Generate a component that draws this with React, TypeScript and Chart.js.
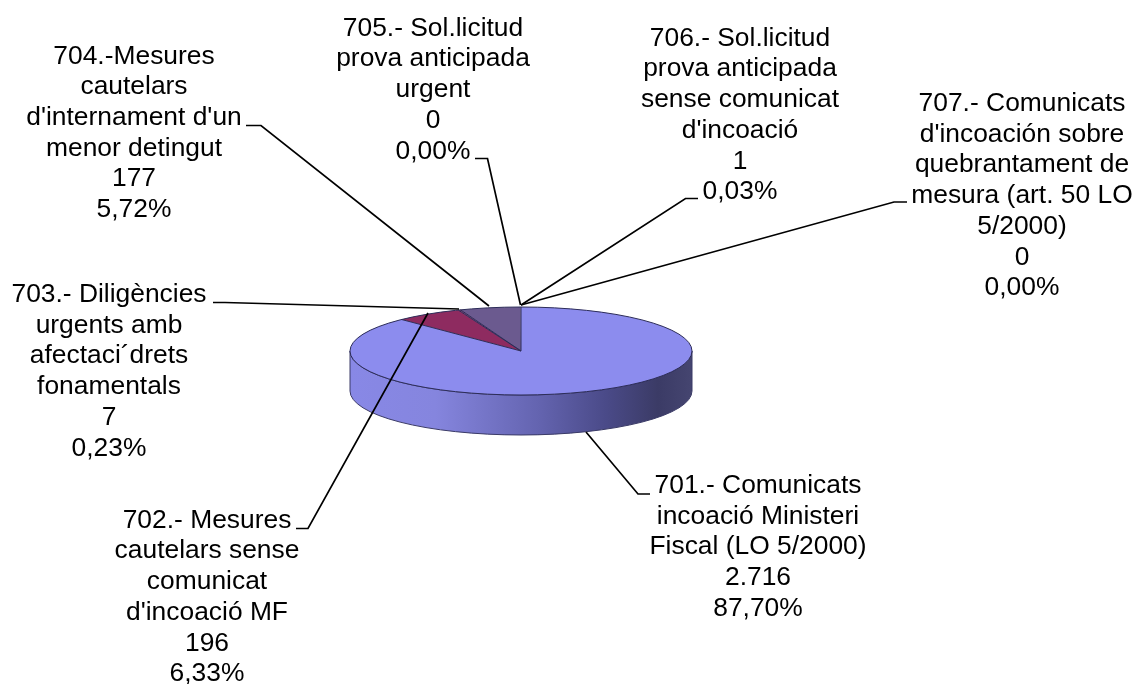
import React, { useEffect, useRef } from "react";
import { Chart, registerables } from "chart.js";

Chart.register(...registerables);

const categories: string[][] = [
  ["701.- Comunicats", "incoació Ministeri", "Fiscal (LO 5/2000)"],
  ["702.- Mesures", "cautelars sense", "comunicat", "d'incoació MF"],
  ["703.- Diligències", "urgents amb", "afectaci´drets", "fonamentals"],
  ["704.-Mesures", "cautelars", "d'internament d'un", "menor detingut"],
  ["705.- Sol.licitud", "prova anticipada", "urgent"],
  ["706.- Sol.licitud", "prova anticipada", "sense comunicat", "d'incoació"],
  ["707.- Comunicats", "d'incoación sobre", "quebrantament de", "mesura (art. 50 LO", "5/2000)"],
];
const values = [2716, 196, 7, 177, 0, 1, 0];
const valueLabels = ["2.716", "196", "7", "177", "0", "1", "0"];
const percentLabels = ["87,70%", "6,33%", "0,23%", "5,72%", "0,00%", "0,03%", "0,00%"];
const sliceColors = ["#8C8CEE", "#8E2B60", "#7A3A70", "#6B5A8F", "#6B5A8F", "#6B5A8F", "#6B5A8F"];

// label layout: text centre x, first baseline y
const labelCenters = [758, 207, 109, 134, 433, 740, 1022];
const labelBaselines = [493, 527.7, 302, 63.5, 35.7, 45.7, 111];
// leader polylines
const leaders: number[][][] = [
  [[650, 494], [638, 494], [586, 432]],
  [[296, 528.5], [308, 528.5], [428, 313]],
  [[213, 302.5], [225, 302.5], [459, 309]],
  [[246, 125.5], [261, 125.5], [489, 306]],
  [[475, 158.5], [487.5, 158.5], [520.5, 305]],
  [[698, 198.5], [685.5, 198.5], [521, 305]],
  [[907, 202], [894, 202], [521, 305]],
];

const LINE_STEP = 30.7;
const FONT = '26.4px "Liberation Sans", Arial, sans-serif';
const RY = 44;
const DEPTH = 40;
const EDGE = "#2C2C58";

const pie3d = {
  id: "pie3d",
  beforeDatasetsDraw(chart: any) {
    const ctx = chart.ctx as CanvasRenderingContext2D;
    const arc = chart.getDatasetMeta(0).data[0];
    const { x, y, outerRadius: r } = arc;
    // extruded wall
    const g = ctx.createLinearGradient(x - r, 0, x + r, 0);
    g.addColorStop(0, "#8888E6");
    g.addColorStop(0.25, "#8585DE");
    g.addColorStop(0.55, "#6464B0");
    g.addColorStop(0.75, "#4A4A88");
    g.addColorStop(0.9, "#3B3B66");
    g.addColorStop(1, "#454570");
    ctx.save();
    ctx.beginPath();
    ctx.ellipse(x, y, r, RY, 0, Math.PI, 0, true);
    ctx.lineTo(x + r, y + DEPTH);
    ctx.ellipse(x, y + DEPTH, r, RY, 0, 0, Math.PI, false);
    ctx.closePath();
    ctx.fillStyle = g;
    ctx.fill();
    ctx.strokeStyle = "#3A3A66";
    ctx.lineWidth = 1;
    ctx.stroke();
    ctx.restore();
    // flatten the library's arcs into the pie's top face
    ctx.save();
    ctx.translate(x, y);
    ctx.scale(1, RY / r);
    ctx.translate(-x, -y);
  },
  afterDatasetsDraw(chart: any) {
    const ctx = chart.ctx as CanvasRenderingContext2D;
    ctx.restore();
    const data = chart.getDatasetMeta(0).data;
    const { x, y, outerRadius: r } = data[0];
    ctx.save();
    ctx.strokeStyle = EDGE;
    ctx.lineWidth = 1;
    ctx.beginPath();
    ctx.ellipse(x, y, r, RY, 0, 0, Math.PI * 2);
    ctx.stroke();
    data.forEach((a: any, i: number) => {
      if (values[i] < 5) return;
      ctx.beginPath();
      ctx.moveTo(x, y);
      ctx.lineTo(x + Math.cos(a.startAngle) * r, y + Math.sin(a.startAngle) * RY);
      ctx.stroke();
    });
    // leaders
    ctx.strokeStyle = "#000";
    ctx.lineWidth = 1.7;
    leaders.forEach((pts) => {
      ctx.beginPath();
      pts.forEach(([px, py], k) => (k ? ctx.lineTo(px, py) : ctx.moveTo(px, py)));
      ctx.stroke();
    });
    // labels
    ctx.fillStyle = "#000";
    ctx.font = FONT;
    ctx.textAlign = "center";
    ctx.textBaseline = "alphabetic";
    categories.forEach((lines, i) => {
      [...lines, valueLabels[i], percentLabels[i]].forEach((t, k) => {
        ctx.fillText(t, labelCenters[i], labelBaselines[i] + k * LINE_STEP);
      });
    });
    ctx.restore();
  },
};

export default function App() {
  const ref = useRef<HTMLCanvasElement>(null);
  useEffect(() => {
    const chart = new Chart(ref.current!, {
      type: "pie",
      data: {
        labels: categories.map((c) => c.join(" ")),
        datasets: [{ data: values, backgroundColor: sliceColors, borderWidth: 0 }],
      },
      options: {
        responsive: false,
        animation: false,
        layout: { padding: { left: 350, right: 443, top: 180, bottom: 162 } },
        plugins: { legend: { display: false }, tooltip: { enabled: false } },
      },
      plugins: [pie3d],
    } as any);
    return () => chart.destroy();
  }, []);
  return (
    <div style={{ position: "absolute", left: 0, top: 0, width: 1135, height: 684, background: "#fff" }}>
      <canvas ref={ref} width={1135} height={684} style={{ display: "block" }} />
    </div>
  );
}
